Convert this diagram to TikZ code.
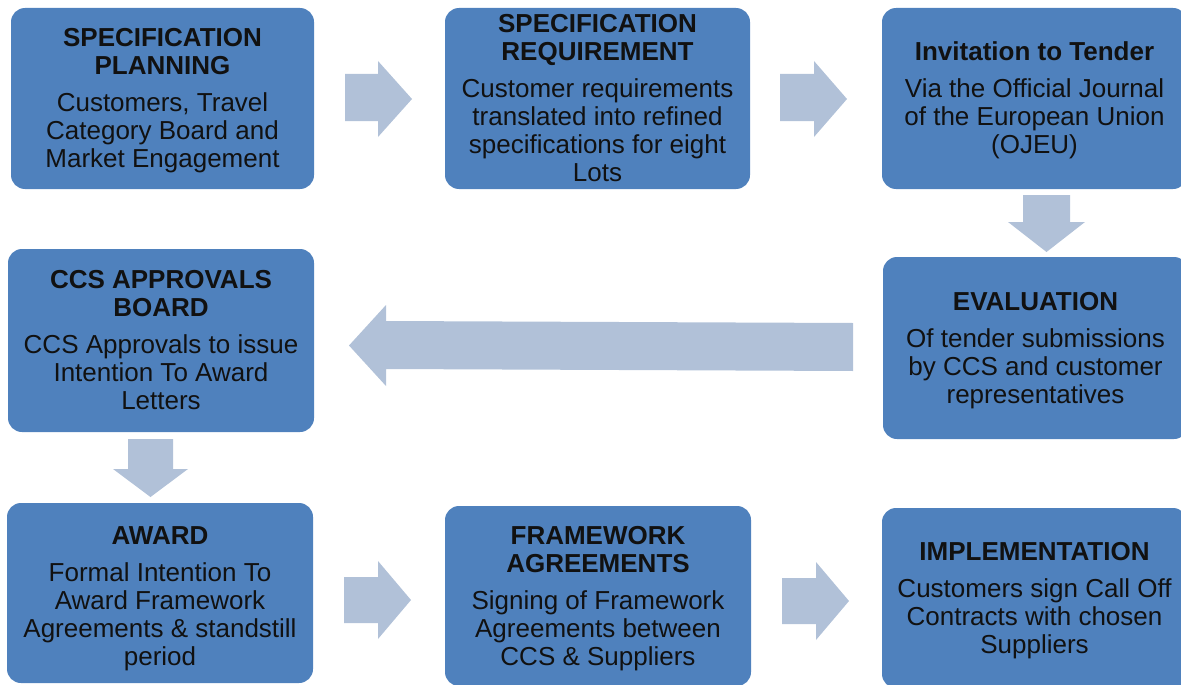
\documentclass[tikz,border=0pt]{standalone}
\usepackage{fontspec}
\setmainfont{Liberation Sans}
\definecolor{boxblue}{HTML}{4F81BD}
\definecolor{arrowgray}{HTML}{B1C1D8}
\definecolor{ink}{HTML}{111111}
\begin{document}
\begin{tikzpicture}[x=1pt,y=-1pt,
  stage/.style={fill=boxblue, rounded corners=14pt, inner sep=0pt,
    minimum width=305pt, minimum height=181pt},
  stagetext/.style={inner sep=0pt, align=center, text=ink, font=\fontsize{26}{28}\selectfont},
  blockarrow/.style={fill=arrowgray}]
\useasboundingbox (0,0) rectangle (1181,685);
\clip (0,0) rectangle (1181,685);

% boxes
\node[stage, minimum width=303pt] (b1) at (162.5,98.5) {};
\node[stage] (b2) at (597.5,98.5) {};
\node[stage] (b3) at (1034.5,98.5) {};
\node[stage, minimum height=182pt] (b4) at (1035.5,348) {};
\node[stage, minimum width=306pt, minimum height=183pt] (b5) at (161,340.5) {};
\node[stage, minimum width=306pt, minimum height=180pt] (b6) at (160,593) {};
\node[stage, minimum width=306pt, minimum height=180pt] (b7) at (598,596) {};
\node[stage, minimum height=180pt] (b8) at (1034.5,598) {};

% texts
\node[stagetext] (t1) at ([yshift=-2pt]b1.center)
  {\textbf{SPECIFICATION}\\\textbf{PLANNING}\\[9pt]Customers, Travel\\Category Board and\\Market Engagement};
\node[stagetext] (t2) at (b2.center)
  {\textbf{SPECIFICATION}\\\textbf{REQUIREMENT}\\[9pt]Customer requirements\\translated into refined\\specifications for eight\\Lots};
\node[stagetext] (t3) at ([yshift=-2pt]b3.center)
  {\textbf{Invitation to Tender}\\[9pt]Via the Official Journal\\of the European Union\\(OJEU)};
\node[stagetext] (t4) at ([yshift=-3pt]b4.center)
  {\textbf{EVALUATION}\\[9pt]Of tender submissions\\by CCS and customer\\representatives};
\node[stagetext] (t5) at (b5.center)
  {\textbf{CCS APPROVALS}\\\textbf{BOARD}\\[9pt]CCS Approvals to issue\\Intention To Award\\Letters};
\node[stagetext] (t6) at ([yshift=-6pt]b6.center)
  {\textbf{AWARD}\\[9pt]Formal Intention To\\Award Framework\\Agreements \& standstill\\period};
\node[stagetext] (t7) at ([yshift=-3pt]b7.center)
  {\textbf{FRAMEWORK}\\\textbf{AGREEMENTS}\\[9pt]Signing of Framework\\Agreements between\\CCS \& Suppliers};
\node[stagetext] (t8) at ([yshift=-3pt]b8.center)
  {\textbf{IMPLEMENTATION}\\[9pt]Customers sign Call Off\\Contracts with chosen\\Suppliers};

% block arrows
\fill[blockarrow] (345,74) -- (378,74) -- (378,61) -- (412,99) -- (378,137) -- (378,121) -- (345,121) -- cycle;
\fill[blockarrow] (780,74) -- (814,74) -- (814,61) -- (847,99) -- (814,137) -- (814,121) -- (780,121) -- cycle;
\fill[blockarrow] (1023,195) -- (1070,195) -- (1070,222) -- (1085,222) -- (1046.5,252) -- (1008,222) -- (1023,222) -- cycle;
\fill[blockarrow] (853,323) -- (386,321) -- (386,305) -- (349,345.5) -- (386,386) -- (386,369) -- (853,371) -- cycle;
\fill[blockarrow] (128,439) -- (173,439) -- (173,469) -- (188,469) -- (150.5,497) -- (113,469) -- (128,469) -- cycle;
\fill[blockarrow] (344,577) -- (378,577) -- (378,561) -- (411,600) -- (378,639) -- (378,623) -- (344,623) -- cycle;
\fill[blockarrow] (782,578) -- (816,578) -- (816,562) -- (849,601) -- (816,640) -- (816,624) -- (782,624) -- cycle;
\end{tikzpicture}
\end{document}
